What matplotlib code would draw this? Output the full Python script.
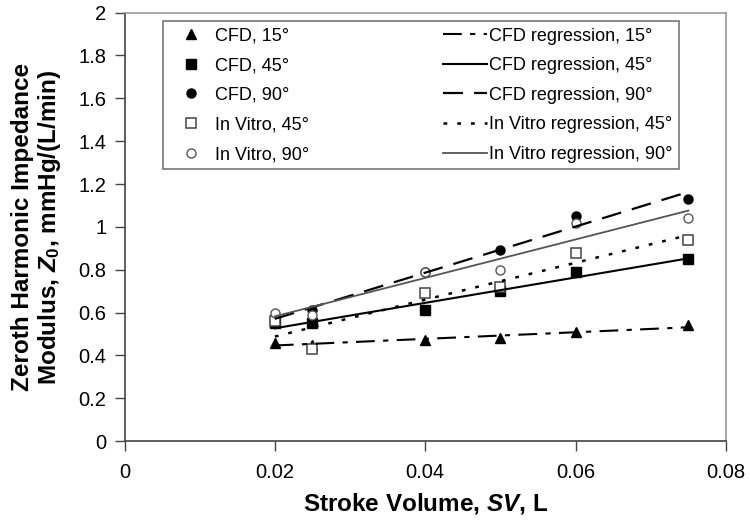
import numpy as np
import matplotlib
matplotlib.use('Agg')
import matplotlib.pyplot as plt

plt.rcParams['font.family'] = ['Liberation Sans', 'DejaVu Sans']
plt.rcParams['mathtext.fontset'] = 'custom'
plt.rcParams['mathtext.it'] = 'Liberation Sans:italic:bold'
plt.rcParams['mathtext.rm'] = 'Liberation Sans:bold'

# data
sv = [0.02, 0.025, 0.04, 0.05, 0.06, 0.075]
cfd15 = [0.46, 0.45, 0.47, 0.48, 0.51, 0.54]
cfd45 = [0.55, 0.55, 0.61, 0.70, 0.79, 0.85]
cfd90 = [0.57, 0.61, 0.79, 0.89, 1.05, 1.13]
vitro45 = [0.56, 0.43, 0.69, 0.72, 0.88, 0.94]
vitro90 = [0.60, 0.59, 0.79, 0.80, 1.02, 1.04]

x_ticks = [0, 0.02, 0.04, 0.06, 0.08]
x_ticklabels = ['0', '0.02', '0.04', '0.06', '0.08']
y_ticks = [0, 0.2, 0.4, 0.6, 0.8, 1, 1.2, 1.4, 1.6, 1.8, 2]
y_ticklabels = ['0', '0.2', '0.4', '0.6', '0.8', '1', '1.2', '1.4', '1.6', '1.8', '2']

fig = plt.figure(figsize=(7.5, 5.27), dpi=100)
ax = fig.add_axes([0.166, 0.163, 0.802, 0.813])

sv_arr = np.array(sv)
xfit = np.array([sv_arr.min(), sv_arr.max()])

def fit(y):
    # linear regression through the points
    p = np.polyfit(sv_arr, np.array(y), 1)
    return np.polyval(p, xfit)

ms = 7
h1, = ax.plot(sv, cfd15, '^', color='black', ms=ms, ls='none')
h2, = ax.plot(sv, cfd45, 's', color='black', ms=ms - 0.5, ls='none')
h3, = ax.plot(sv, cfd90, 'o', color='black', ms=ms - 0.5, ls='none')
h4, = ax.plot(sv, vitro45, 's', mfc='white', mec='#444444', mew=1.1, ms=ms - 0.5, ls='none')
h5, = ax.plot(sv, vitro90, 'o', mfc='white', mec='#555555', mew=1.0, ms=ms - 0.5, ls='none')

l1, = ax.plot(xfit, fit(cfd15), color='black', lw=1.5, ls=(0, (9, 4, 2.5, 4)))
l2, = ax.plot(xfit, fit(cfd45), color='black', lw=1.5, ls='-')
l3, = ax.plot(xfit, fit(cfd90), color='black', lw=1.6, ls=(0, (9, 5)))
l4, = ax.plot(xfit, fit(vitro45), color='black', lw=1.8, ls=(0, (1.5, 4)))
l5, = ax.plot(xfit, fit(vitro90), color='#555555', lw=1.3, ls='-')

labels = ['CFD, 15°', 'CFD, 45°', 'CFD, 90°', 'In Vitro, 45°', 'In Vitro, 90°',
          'CFD regression, 15°', 'CFD regression, 45°', 'CFD regression, 90°',
          'In Vitro regression, 45°', 'In Vitro regression, 90°']
leg = ax.legend([h1, h2, h3, h4, h5, l1, l2, l3, l4, l5], labels, ncol=2,
                loc='upper left', bbox_to_anchor=(0.064, 0.98), fontsize=13,
                frameon=True, fancybox=False, edgecolor='#555555',
                handlelength=2.4, handletextpad=0.15, columnspacing=7.4,
                labelspacing=0.7, borderpad=0.35, borderaxespad=0)
leg.get_frame().set_linewidth(1.2)

ax.set_xlim(0, 0.08)
ax.set_ylim(0, 2)
ax.set_xticks(x_ticks)
ax.set_xticklabels(x_ticklabels)
ax.set_yticks(y_ticks)
ax.set_yticklabels(y_ticklabels)
ax.tick_params(labelsize=14.5, direction='out', length=7, width=1, color='#444444', pad=6)
ax.tick_params(axis='x', pad=9)

for s in ['left', 'bottom']:
    ax.spines[s].set_color('#444444')
    ax.spines[s].set_linewidth(1.2)
for s in ['top', 'right']:
    ax.spines[s].set_color('#999999')
    ax.spines[s].set_linewidth(1.2)

ax.set_xlabel('Stroke Volume, $SV$, L', fontsize=17.5, fontweight='bold', labelpad=6)
ax.set_ylabel('Zeroth Harmonic Impedance\nModulus, $Z_0$, mmHg/(L/min)', fontsize=17.5,
              fontweight='bold', linespacing=1.1)
ax.yaxis.set_label_coords(-0.103, 0.5)

fig.savefig('out.png', dpi=100)
